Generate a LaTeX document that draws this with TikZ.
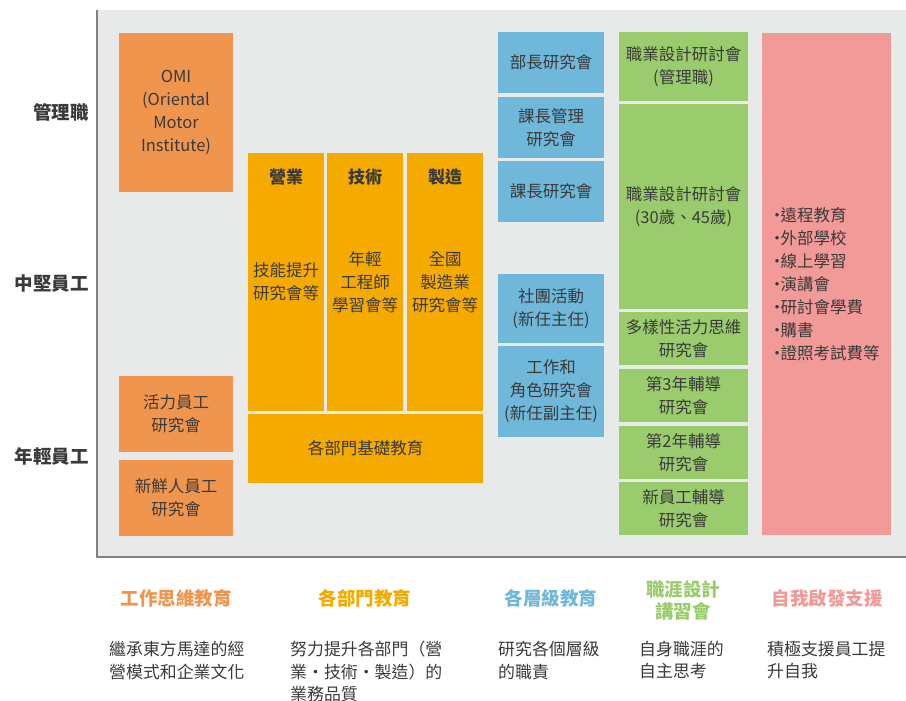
\documentclass[tikz,border=0pt]{standalone}
\usepackage{fontspec}
\setmainfont{Noto Sans CJK TC}
\usetikzlibrary{positioning}

\definecolor{omiorange}{HTML}{F0954E}
\definecolor{deptyellow}{HTML}{F5AA00}
\definecolor{levelblue}{HTML}{6FB8DA}
\definecolor{careergreen}{HTML}{9ACC6E}
\definecolor{selfpink}{HTML}{F19A97}
\definecolor{panelgray}{HTML}{E8E9E9}
\definecolor{axisgray}{HTML}{85807D}
\definecolor{inkgray}{HTML}{3A3A3A}

\newcommand{\listdot}{\makebox[7pt]{·}}

\begin{document}
\begin{tikzpicture}[x=1pt, y=-1pt,
  box/.style={inner sep=0pt, align=center, text=inkgray, font=\fontsize{16.5}{23}\selectfont},
  hd/.style={inner sep=0pt, text=inkgray, font=\fontsize{17}{22}\selectfont\bfseries},
  level/.style={inner sep=0pt, anchor=east, text=inkgray, font=\fontsize{18.5}{22}\selectfont\bfseries},
  kind/.style={inner sep=0pt, align=center, font=\fontsize{18.5}{22.5}\selectfont\bfseries},
  note/.style={inner sep=0pt, anchor=north west, align=left, text=inkgray, font=\fontsize{16.9}{22.5}\selectfont}
]
\useasboundingbox (0,0) rectangle (906,701);

% panel
\fill[panelgray] (97,10) rectangle (906,557);
\draw[axisgray, line width=1.5pt] (97,10) -- (97,557) -- (906,557);

% levels
\node[level] (mgr) at (89,112) {管理職};
\node[level] (mid) at (89,283) {中堅員工};
\node[level] (yng) at (89,456) {年輕員工};

% work mindset
\node[box, fill=omiorange, minimum width=114pt, minimum height=159pt] (omi) at (176,112.5) {OMI\\(Oriental\\Motor\\Institute)};
\node[box, fill=omiorange, minimum width=114pt, minimum height=76pt] (vital) at (176,414) {活力員工\\研究會};
\node[box, fill=omiorange, minimum width=114pt, minimum height=76pt] (fresh) at (176,498) {新鮮人員工\\研究會};

% departments
\node[box, fill=deptyellow, minimum width=76pt, minimum height=258pt] (sales) at (286,282) {技能提升\\研究會等};
\node[box, fill=deptyellow, minimum width=76pt, minimum height=258pt] (tech) at (365,282) {年輕\\工程師\\學習會等};
\node[box, fill=deptyellow, minimum width=76pt, minimum height=258pt] (manu) at (445,282) {全國\\製造業\\研究會等};
\node[hd, below=15.5pt of sales.north] (salesHd) {營業};
\node[hd, below=15.5pt of tech.north] (techHd) {技術};
\node[hd, below=15.5pt of manu.north] (manuHd) {製造};
\node[box, fill=deptyellow, minimum width=235pt, minimum height=69pt] (basic) at (365.5,448.5) {各部門基礎教育};

% levels training
\node[box, fill=levelblue, minimum width=106pt, minimum height=61pt] (bucho) at (551,62.5) {部長研究會};
\node[box, fill=levelblue, minimum width=106pt, minimum height=61pt] (kachoMgt) at (551,127.5) {課長管理\\研究會};
\node[box, fill=levelblue, minimum width=106pt, minimum height=61pt] (kacho) at (551,191.5) {課長研究會};
\node[box, fill=levelblue, minimum width=106pt, minimum height=69pt] (club) at (551,308.5) {社團活動\\(新任主任)};
\node[box, fill=levelblue, minimum width=106pt, minimum height=91pt] (role) at (551,391.5) {工作和\\角色研究會\\(新任副主任)};

% career design
\node[box, fill=careergreen, minimum width=129pt, minimum height=69pt] (careerMgr) at (683.5,66.5) {職業設計研討會\\(管理職)};
\node[box, fill=careergreen, minimum width=129pt, minimum height=205pt] (careerAge) at (683.5,206.5) {職業設計研討會\\(30歲、45歲)};
\node[box, fill=careergreen, minimum width=129pt, minimum height=53pt] (diverse) at (683.5,338.5) {多樣性活力思維\\研究會};
\node[box, fill=careergreen, minimum width=129pt, minimum height=53pt] (year3) at (683.5,395.5) {第3年輔導\\研究會};
\node[box, fill=careergreen, minimum width=129pt, minimum height=53pt] (year2) at (683.5,452.5) {第2年輔導\\研究會};
\node[box, fill=careergreen, minimum width=129pt, minimum height=53pt] (newcomer) at (683.5,508.5) {新員工輔導\\研究會};

% self development
\node[box, fill=selfpink, align=left, minimum width=129pt, minimum height=502pt] (self) at (826.5,284) {\listdot 遠程教育\\\listdot 外部學校\\\listdot 線上學習\\\listdot 演講會\\\listdot 研討會學費\\\listdot 購書\\\listdot 證照考試費等};

% legend
\node[kind, text=omiorange] (kindWork) at (176,598) {工作思維教育};
\node[kind, text=deptyellow] (kindDept) at (365,598) {各部門教育};
\node[kind, text=levelblue] (kindLevel) at (551,598) {各層級教育};
\node[kind, text=careergreen] (kindCareer) at (683,600.5) {職涯設計\\講習會};
\node[kind, text=selfpink] (kindSelf) at (827,598) {自我啟發支援};

\node[note] (noteWork) at (109,641) {繼承東方馬達的經\\營模式和企業文化};
\node[note] (noteDept) at (290,641) {努力提升各部門（營\\業・技術・製造）的\\業務品質};
\node[note] (noteLevel) at (498,641) {研究各個層級\\的職責};
\node[note] (noteCareer) at (639,641) {自身職涯的\\自主思考};
\node[note] (noteSelf) at (767,641) {積極支援員工提\\升自我};
\end{tikzpicture}
\end{document}
